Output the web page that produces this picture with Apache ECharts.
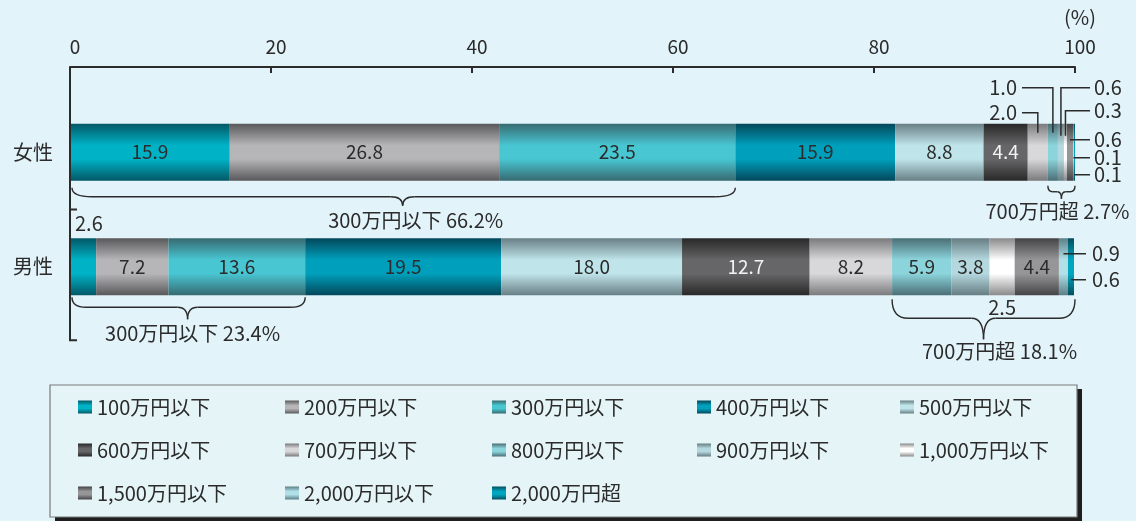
<!DOCTYPE html>
<html><head><meta charset="utf-8">
<script src="https://cdn.jsdelivr.net/npm/echarts@6/dist/echarts.min.js"></script>
<style>html,body{margin:0;padding:0;background:#e2f3fa}#c{width:1136px;height:521px}</style>
</head><body><div id="c"></div><script>
// ---- data ----
const categories = ['女性', '男性'];
const brackets = ['100万円以下','200万円以下','300万円以下','400万円以下','500万円以下',
  '600万円以下','700万円以下','800万円以下','900万円以下','1,000万円以下',
  '1,500万円以下','2,000万円以下','2,000万円超'];
const female = [15.9, 26.8, 23.5, 15.9, 8.8, 4.4, 2.0, 1.0, 0.6, 0.3, 0.6, 0.1, 0.1];
const male   = [2.6, 7.2, 13.6, 19.5, 18.0, 12.7, 8.2, 5.9, 3.8, 2.5, 4.4, 0.9, 0.6];
const xTicks = [0, 20, 40, 60, 80, 100];

// ---- styles ----
const FONT = '"Noto Sans CJK JP", "Noto Sans", sans-serif';
const TXT = '#2b2b2b';
const palette = [
  ['#035866', '#00b2c6'], ['#59595b', '#b6b6b8'], ['#376a71', '#48c6d2'],
  ['#03475a', '#00a0bc'], ['#687f85', '#bfe4ea'], ['#282828', '#666668'],
  ['#7a7a7c', '#d8d8da'], ['#4a6e75', '#8cd4dc'], ['#667d83', '#b4d8de'],
  ['#8a8a8a', '#ffffff'], ['#444446', '#969698'], ['#5c7f87', '#b0e0e8'],
  ['#044e5e', '#00a6c0']
];
function grad(c) {
  return new echarts.graphic.LinearGradient(0, 0, 0, 1, [
    {offset: 0, color: c[0]}, {offset: 0.38, color: c[1]},
    {offset: 0.62, color: c[1]}, {offset: 1, color: c[0]}]);
}

const chart = echarts.init(document.getElementById('c'), null, {renderer: 'canvas'});
const series = brackets.map((name, i) => ({
  name, type: 'bar', stack: 'total', barWidth: 57,
  data: [female[i], male[i]],
  itemStyle: {color: grad(palette[i])},
  label: {show: true, position: 'inside', fontSize: 19, fontFamily: FONT,
    color: i === 5 ? '#f2f2f2' : TXT,
    formatter: p => (p.value >= 3 ? p.value.toFixed(1) : '')},
  emphasis: {disabled: true}
}));

const colX = [78, 285, 492, 697, 900], rowY = [408, 451, 494];
const legends = brackets.map((n, i) => ({
  data: [n], left: colX[i % 5], top: rowY[Math.floor(i / 5)] - 11, padding: 0,
  itemWidth: 14, itemHeight: 13, icon: 'rect', selectedMode: false,
  textStyle: {fontSize: 20, color: TXT, fontFamily: FONT}
}));

chart.setOption({
  animation: false,
  backgroundColor: '#e2f3fa',
  grid: {left: 70, right: 61, top: 95, height: 229},
  xAxis: {type: 'value', position: 'top', offset: 28, min: xTicks[0], max: xTicks[xTicks.length - 1],
    interval: xTicks[1] - xTicks[0],
    axisLine: {show: true, lineStyle: {color: '#2b2b2b', width: 2}},
    axisTick: {show: true, inside: true, length: 6, lineStyle: {color: '#2b2b2b', width: 2}},
    axisLabel: {fontSize: 19, color: TXT, fontFamily: FONT, margin: 11, padding: [0, 0, 0, 10]},
    splitLine: {show: false}},
  yAxis: {type: 'category', inverse: true, data: categories,
    axisLine: {show: false}, axisTick: {show: false},
    axisLabel: {fontSize: 20, color: TXT, fontFamily: FONT, margin: 17}},
  legend: legends,
  series
});

// ---- annotations computed from data through the axes ----
const P = (v, c) => chart.convertToPixel({gridIndex: 0}, [v, c]);
const sum = (a, s, e) => a.slice(s, e).reduce((x, y) => x + y, 0);
const rows = [female, male];
const segMid = (c, i) => P(sum(rows[c], 0, i) + rows[c][i] / 2, c)[0];
const segStart = (c, i) => P(sum(rows[c], 0, i), c)[0];
const ctr = c => P(0, c)[1];
const HALF = 28.5;
const x0 = P(0, 0)[0], x100 = P(100, 0)[0];
const axisY = 95 - 28;

const g = [];
const STROKE = {stroke: '#2b2b2b', fill: null};
const line = (pts, w) => g.push({type: 'polyline', silent: true, z: 10,
  shape: {points: pts}, style: Object.assign({lineWidth: w || 1.5}, STROKE)});
const text = (t, x, y, align, size) => g.push({type: 'text', silent: true, z: 10, x, y,
  style: {text: t, fontSize: size || 19, fontFamily: FONT, fill: TXT, align: align || 'left', verticalAlign: 'middle'}});
const quad = (x1, y1, cx, cy, x2, y2) => g.push({type: 'bezierCurve', silent: true, z: 10,
  shape: {x1, y1, x2, y2, cpx1: cx, cpy1: cy}, style: Object.assign({lineWidth: 1.4}, STROKE)});
function brace(x1, x2, y0, h1, h2, r1, r2, xm) {
  const y1 = y0 + h1, y2 = y1 + h2;
  quad(x1, y0, x1, y1, x1 + r1, y1);
  line([[x1 + r1, y1], [xm - r2, y1]], 1.4);
  quad(xm - r2, y1, xm, y1, xm, y2);
  quad(xm, y2, xm, y1, xm + r2, y1);
  line([[xm + r2, y1], [x2 - r1, y1]], 1.4);
  quad(x2 - r1, y1, x2, y1, x2, y0);
}

// legend box
g.push({type: 'rect', silent: true, z: -2, shape: {x: 55, y: 389, width: 1027, height: 132}, style: {fill: '#1e1e1e'}});
g.push({type: 'rect', silent: true, z: -1, shape: {x: 50, y: 385, width: 1027, height: 132},
  style: {fill: '#e5f4f7', stroke: '#7a7a7a', lineWidth: 1.2}});

// (%) unit
text('(%)', x100 + 5, 17, 'center', 20);

// y axis line with ticks
const midY = (ctr(0) + ctr(1)) / 2;
const botY = ctr(1) + HALF + 45;
line([[x0, axisY], [x0, botY], [x0 + 7, botY]], 2);
line([[x0, midY], [x0 + 7, midY]], 2);

// female braces
{
  const c = 0, b = ctr(c) + HALF;
  const x2 = segStart(c, 3);
  const xm = (x0 + x2) / 2;
  brace(x0 + 2, x2, b + 7, 9, 9, 20, 12, xm);
  text('300万円以下 ' + sum(female, 0, 3).toFixed(1) + '%', xm + 13, b + 40, 'center', 20);
  const a1 = segStart(c, 7), a2 = x100;
  const am = (a1 + a2) / 2;
  brace(a1, a2, b + 5, 6, 7, 5, 4, am);
  text('700万円超 ' + sum(female, 7, 13).toFixed(1) + '%', am - 4, b + 31, 'center', 20);
}
// male braces
{
  const c = 1, b = ctr(c) + HALF;
  const x2 = segStart(c, 3);
  const xm = (x0 + x2) / 2;
  brace(x0 + 2, x2, b + 2, 10, 12, 14, 10, xm);
  text('300万円以下 ' + sum(male, 0, 3).toFixed(1) + '%', xm + 5, b + 38, 'center', 20);
  const a1 = segStart(c, 7), a2 = x100;
  const am = (a1 + a2) / 2;
  brace(a1, a2, b + 4, 19, 21, 16, 12, am);
  text('700万円超 ' + sum(male, 7, 13).toFixed(1) + '%', am + 16, b + 56, 'center', 20);
}

// female callouts
{
  const c = 0, cy = ctr(c), top = cy - HALF;
  const lx = 1022, tx = 1017, rx = x100 + 15, rtx = x100 + 19;
  [[6, -39.5], [7, -64.5]].forEach(([i, dy]) => {
    const sx = segMid(c, i);
    line([[lx, cy + dy], [sx, cy + dy], [sx, top + 9]]);
    text(female[i].toFixed(1), tx, cy + dy, 'right', 20);
  });
  [[8, -64.5], [9, -41.5]].forEach(([i, dy]) => {
    const sx = segMid(c, i);
    line([[sx, top + 12], [sx, cy + dy], [rx, cy + dy]]);
    text(female[i].toFixed(1), rtx, cy + dy, 'left', 20);
  });
  [[10, -12.5], [11, 5.5], [12, 22.5]].forEach(([i, dy]) => {
    const sx = segMid(c, i);
    line([[sx, cy + dy], [rx, cy + dy]]);
    text(female[i].toFixed(1), rtx, cy + dy, 'left', 20);
  });
}
// male callouts
{
  const c = 1, cy = ctr(c), top = cy - HALF, bot = cy + HALF;
  const rx = x100 + 11, rtx = x100 + 17;
  [[11, -13], [12, 13]].forEach(([i, dy]) => {
    const sx = segMid(c, i);
    line([[sx, cy + dy], [rx, cy + dy]]);
    text(male[i].toFixed(1), rtx, cy + dy, 'left', 20);
  });
  text(male[9].toFixed(1), segMid(c, 9), bot + 12, 'center', 20);
  text(male[0].toFixed(1), x0 + 5, top - 15, 'left', 20);
}

chart.setOption({graphic: {elements: g}});
</script></body></html>
